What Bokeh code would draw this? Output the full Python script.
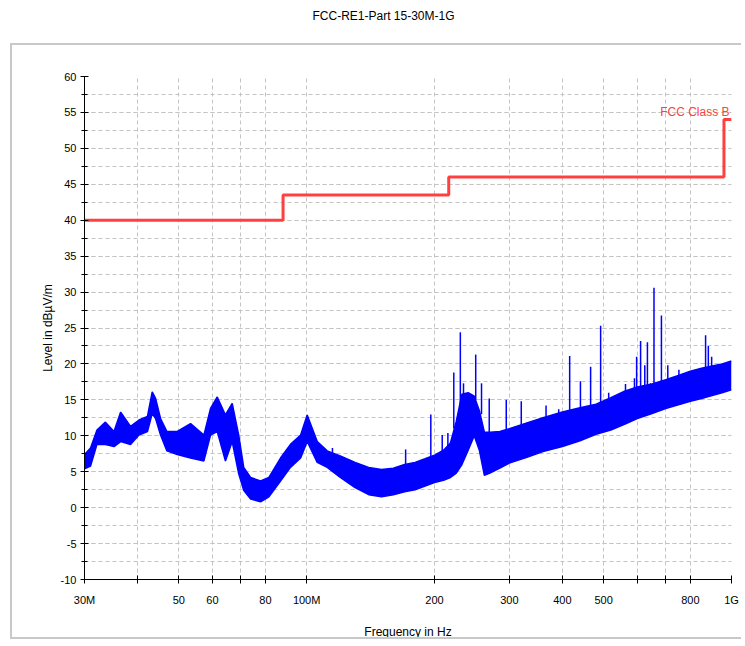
from bokeh.plotting import figure
from bokeh.models import (Range1d, FixedTicker, SingleIntervalTicker,
                          CustomJSTickFormatter, Div)
from bokeh.layouts import column
from bokeh.core.properties import value
from bokeh.embed import file_html
from bokeh.resources import INLINE

# ---------------- data ----------------
title_text = "FCC-RE1-Part 15-30M-1G"
x_title = "Frequency in Hz"
y_title = "Level in dBµV/m"

x_tick_values = [30, 40, 50, 60, 70, 80, 100, 200, 300, 400, 500, 600, 700, 800, 1000]
x_tick_labels = ["30M", "", "50", "60", "", "80", "100M", "200", "300", "400", "500", "", "", "800", "1G"]

limit_name = "FCC Class B"
limit_freq = [30, 88, 216, 960, 1000]
limit_level = [40, 43.5, 46, 54, 54]

# measured trace envelope (MHz, dBuV/m)
trace_freq = [30.0, 31.0, 32.1, 33.6, 35.2, 36.5, 38.5, 40.3, 42.2, 43.3, 44.1, 45.3,
              46.9, 49.6, 53.3, 57.3, 59.4, 61.6, 64.4, 66.8, 69.2, 71.1, 73.8, 77.9,
              81.5, 86.8, 91.6, 96.8, 100.3, 105.9, 111.8, 120, 130, 140, 150, 160,
              170, 180, 190, 200, 210, 218, 225, 232, 240, 248, 255, 262, 270, 285,
              300, 330, 360, 400, 440, 480, 520, 560, 600, 650, 700, 750, 800, 850,
              900, 950, 1000]
trace_low = [5.4, 5.8, 8.8, 8.8, 8.5, 9.2, 8.8, 10.1, 10.6, 13.1, 12.4, 10.1,
             7.9, 7.4, 6.9, 6.5, 10.1, 10.6, 6.5, 9.2, 4.7, 2.4, 1.2, 0.8,
             1.5, 3.7, 5.6, 6.9, 9.2, 6.3, 5.6, 4.2, 2.8, 1.8, 1.5, 1.8,
             2.2, 2.5, 3.0, 3.5, 3.8, 4.2, 4.8, 6.0, 8.0, 10.0, 8.0, 4.5, 4.8, 5.5,
             6.2, 7.0, 7.8, 8.5, 9.3, 10.2, 10.8, 11.6, 12.4, 13.1, 13.8, 14.3, 14.8, 15.2,
             15.6, 16.0, 16.4]
trace_high = [7.4, 8.3, 10.8, 11.9, 10.6, 13.3, 11.3, 12.2, 12.7, 16.1, 15.2, 12.4,
              10.6, 10.6, 11.7, 10.1, 13.8, 15.4, 12.9, 14.5, 10.1, 5.6, 4.2, 3.7,
              4.2, 6.9, 8.8, 10.1, 12.9, 9.2, 7.9, 7.2, 6.3, 5.6, 5.3, 5.5,
              6.0, 6.3, 6.8, 7.3, 8.0, 9.0, 12.0, 15.8, 16.0, 15.5, 13.5, 10.5, 10.5, 10.6,
              11.0, 11.8, 12.5, 13.3, 13.9, 14.4, 15.3, 16.2, 16.8, 17.2, 17.8, 18.4, 19.0, 19.4,
              19.7, 20.0, 20.4]

# narrow-band spikes (MHz, base, peak)
spike_freq = [115, 171, 196, 208.5, 215, 222, 230, 234, 250, 258, 269, 295, 320, 366,
              392, 416, 441, 466, 492, 514, 563, 591, 598, 611, 625, 634, 645, 657,
              684, 708, 752, 869, 882, 898]
spike_base = [7.0, 6.0, 7.2, 7.8, 8.5, 11.0, 14.0, 15.0, 15.0, 13.0, 10.5, 10.8, 11.5, 12.6,
              13.0, 13.5, 13.9, 14.2, 14.5, 15.0, 16.0, 16.5, 16.6, 16.9, 17.0, 17.0, 17.0, 17.1,
              17.5, 17.8, 18.4, 19.5, 19.5, 19.6]
spike_peak = [8.3, 8.1, 12.95, 10.1, 10.4, 18.8, 24.4, 17.3, 21.3, 17.3, 15.2, 15.0, 14.8, 14.2,
              13.7, 21.1, 17.6, 19.6, 25.3, 16.0, 17.2, 18.0, 21.0, 23.2, 19.8, 23.0, 17.3, 30.6,
              26.75, 19.8, 19.2, 24.0, 22.5, 21.0]

# ---------------- styles ----------------
FONT = "Liberation Sans"
GRID = "#c4c4c4"
BLUE = "#0000ff"
RED = "#ff4040"
FRAME = "2px solid #c8c8c8"

p = figure(width=731, height=596, x_axis_type="log",
           x_range=Range1d(30, 1000), y_range=Range1d(-10, 60),
           output_backend="svg", toolbar_location=None,
           min_border_left=72, min_border_right=12,
           min_border_top=31, min_border_bottom=58)
p.margin = (0, 0, 0, 10)
p.styles = {"border-left": FRAME, "border-top": FRAME, "border-bottom": FRAME}
p.outline_line_color = None
p.background_fill_color = "white"
p.border_fill_color = "white"

# axes
xt = FixedTicker(ticks=x_tick_values)
p.xaxis.ticker = xt
p.xgrid.ticker = xt
p.xaxis.formatter = CustomJSTickFormatter(
    args=dict(vals=x_tick_values, labs=x_tick_labels),
    code="""
    for (let i = 0; i < vals.length; i++) {
        if (Math.abs(vals[i] - tick) < 1e-6 * vals[i]) return labs[i];
    }
    return "";
    """)
p.xaxis.minor_tick_line_color = None

yt = SingleIntervalTicker(interval=5, num_minor_ticks=2)
p.yaxis.ticker = yt
p.ygrid.ticker = yt
p.yaxis.formatter = CustomJSTickFormatter(code="return tick.toFixed(0);")

for ax in (p.xaxis[0], p.yaxis[0]):
    ax.axis_line_color = "black"
    ax.major_tick_line_color = "black"
    ax.major_tick_in = 4
    ax.major_tick_out = 4
    ax.minor_tick_in = 3
    ax.minor_tick_out = 3
    ax.major_label_text_font = FONT
    ax.major_label_text_font_size = "11px"
    ax.major_label_text_color = "black"
    ax.axis_label_text_font = FONT
    ax.axis_label_text_font_size = "12px"
    ax.axis_label_text_font_style = "normal"
    ax.axis_label_text_color = "black"
p.yaxis.minor_tick_line_color = "black"

p.xaxis.axis_label = x_title
p.yaxis.axis_label = y_title
p.xaxis.major_label_standoff = 10
p.xaxis.axis_label_standoff = 16
p.yaxis.major_label_standoff = 4
p.yaxis.axis_label_standoff = 3

for g in (p.xgrid[0], p.ygrid[0]):
    g.grid_line_color = GRID
    g.grid_line_dash = "4 3"
    g.grid_line_width = 1
p.ygrid.minor_grid_line_color = GRID
p.ygrid.minor_grid_line_dash = "4 3"

# measured trace
p.varea(x=trace_freq, y1=trace_low, y2=trace_high, fill_color=BLUE, fill_alpha=1.0)
p.line(trace_freq, trace_high, line_color=BLUE, line_width=1.5)
p.line(trace_freq, trace_low, line_color=BLUE, line_width=1.5)
p.segment(x0=spike_freq, y0=spike_base, x1=spike_freq, y1=spike_peak,
          line_color=BLUE, line_width=1.5)

# limit line
p.step(limit_freq, limit_level, mode="after", line_color=RED, line_width=3)
p.text(x=[limit_freq[-1]], y=[limit_level[-1] + 1.0], text=[limit_name],
       text_align="right", text_baseline="middle", x_offset=-2,
       text_color=RED, text_font=value(FONT), text_font_size="12px")

title_div = Div(
    text=('<div style="width:745px;text-align:center;font-family:\'Liberation Sans\';'
          'font-size:12px;color:black;padding-top:8px;padding-left:22px;'
          'box-sizing:border-box;">' + title_text + '</div>'),
    width=745, height=43, margin=(0, 0, 0, 0))

layout = column(title_div, p, spacing=0)

with open("out.html", "w") as f:
    f.write(file_html(layout, INLINE))
